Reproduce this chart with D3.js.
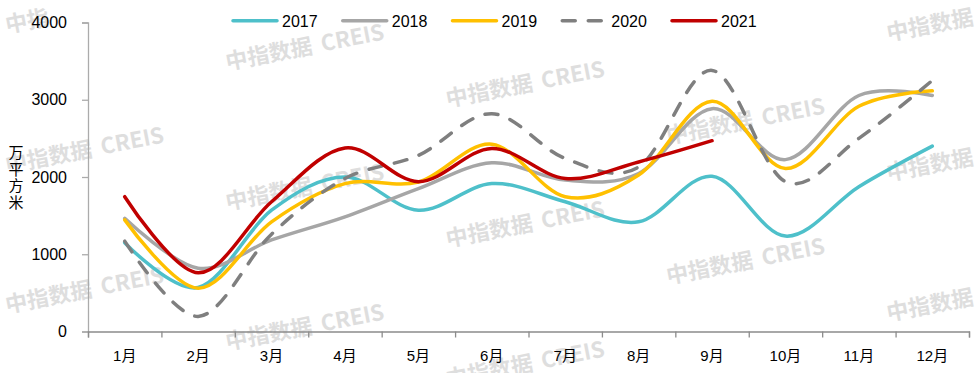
<!DOCTYPE html>
<html><head><meta charset="utf-8">
<script src="https://cdn.jsdelivr.net/npm/d3@7/dist/d3.min.js"></script>
<style>body{margin:0;background:#fff}svg{display:block}</style>
</head><body>
<svg id="chart" width="979" height="373"></svg>
<script>
const months = ["1月","2月","3月","4月","5月","6月","7月","8月","9月","10月","11月","12月"];
const seriesNames = ["2017","2018","2019","2020","2021"];
const v2017 = [1150, 570, 1570, 2000, 1570, 1915, 1680, 1420, 2010, 1235, 1875, 2400];
const v2018 = [1465, 820, 1185, 1485, 1850, 2185, 1960, 2045, 2885, 2225, 3055, 3055];
const v2019 = [1445, 560, 1420, 1915, 1935, 2425, 1745, 2025, 2980, 2110, 2915, 3115];
const v2020 = [1170, 195, 1260, 1980, 2280, 2820, 2240, 2130, 3380, 1940, 2500, 3250];
const v2021 = [1745, 760, 1680, 2375, 1940, 2370, 1980, 2195, 2470];
const yTicks = [0, 1000, 2000, 3000, 4000];
const yTitle = "万平方米";
const wmCN = "中指数据";
const wmEN = "CREIS";

const colors = {"2017":"#4EC0CA","2018":"#A6A6A6","2019":"#FFC000","2020":"#7F7F7F","2021":"#C00000"};
const dashes = {"2020":"13,13"};
const values = {"2017":v2017,"2018":v2018,"2019":v2019,"2020":v2020,"2021":v2021};

const W = 979, H = 373;
const L = 88, R = 969, T = 22.5, B = 331.5;
const svg = d3.select("#chart");
svg.append("rect").attr("width", W).attr("height", H).attr("fill", "#fff");

// watermarks
const wm = svg.append("g");
for (let c = 0; c < 5; c++) {
  for (let k = -1; k < 3; k++) {
    const x = 7 + 220.3 * c, y = 33 + 37 * c + 140 * k;
    if (y < 20 || y > 420) continue;
    const t = wm.append("text")
      .attr("transform", `translate(${x},${y}) rotate(-11)`)
      .attr("fill", "#dedede")
      .attr("font-family", "'Noto Sans CJK SC','Noto Sans',sans-serif")
      .attr("font-weight", 700)
      .attr("font-size", 22);
    if (c === 0 && k === 0) {
      t.append("tspan").text(wmCN.slice(0, 2));
    } else {
      t.append("tspan").text(wmCN);
      t.append("tspan").attr("dx", 9).text(wmEN);
    }
  }
}

const x = d3.scaleBand().domain(months).range([L, R]).padding(0);
const xEdge = d3.scaleLinear().domain([0, 12]).range([L, R]);
const y = d3.scaleLinear().domain([0, 4000]).range([B, T]);

const font = "'Liberation Sans', Arial, 'Noto Sans CJK SC', sans-serif";

// y axis
const ya = svg.append("g").attr("transform", `translate(${L},0)`)
  .call(d3.axisLeft(y).tickValues(yTicks).tickSize(6).tickPadding(15).tickFormat(d3.format("d")));
ya.select(".domain").attr("stroke", "#ababab").attr("stroke-width", 1.3);
ya.selectAll(".tick line").attr("stroke", "#ababab").attr("stroke-width", 1.3);
ya.selectAll(".tick text").attr("font-family", font).attr("font-size", 16).attr("fill", "#000");

// x axis ticks at band edges
const xt = svg.append("g").attr("transform", `translate(0,${B})`)
  .call(d3.axisBottom(xEdge).tickValues(d3.range(13)).tickSize(6).tickFormat(""));
xt.select(".domain").attr("stroke", "#8c8c8c").attr("stroke-width", 1.3);
xt.selectAll(".tick line").attr("stroke", "#8c8c8c").attr("stroke-width", 1.3);

// x labels
const xl = svg.append("g").attr("transform", `translate(0,${B})`)
  .call(d3.axisBottom(x).tickSize(0).tickPadding(19));
xl.select(".domain").remove();
xl.selectAll(".tick text").attr("font-family", font).attr("font-size", 15).attr("fill", "#000");

// y title (vertical, upright characters)
svg.append("text")
  .attr("x", 16).attr("y", 178)
  .attr("font-family", "'Noto Sans CJK SC', sans-serif")
  .attr("font-size", 15).attr("fill", "#000")
  .attr("text-anchor", "middle")
  .attr("letter-spacing", 1.5)
  .style("writing-mode", "vertical-rl")
  .style("text-orientation", "upright")
  .text(yTitle);

// lines
const line = d3.line()
  .x((d, i) => x(months[i]) + x.bandwidth() / 2)
  .y(d => y(d))
  .curve(d3.curveCardinal.tension(0));

seriesNames.forEach(name => {
  svg.append("path")
    .datum(values[name])
    .attr("d", line)
    .attr("fill", "none")
    .attr("stroke", colors[name])
    .attr("stroke-width", 3.5)
    .attr("stroke-linecap", "round")
    .attr("stroke-linejoin", "round")
    .attr("stroke-dasharray", dashes[name] || null);
});

// legend
const lg = svg.append("g");
seriesNames.forEach((name, i) => {
  const x0 = 232 + i * 109.75;
  lg.append("line").attr("x1", x0 + 1).attr("x2", x0 + 45).attr("y1", 20.7).attr("y2", 20.7)
    .attr("stroke", colors[name]).attr("stroke-width", 3.5)
    .attr("stroke-linecap", "round")
    .attr("stroke-dasharray", dashes[name] || null);
  lg.append("text").attr("x", x0 + 50).attr("y", 27).attr("font-family", font)
    .attr("font-size", 16).attr("fill", "#000").text(name);
});
</script>
</body></html>
